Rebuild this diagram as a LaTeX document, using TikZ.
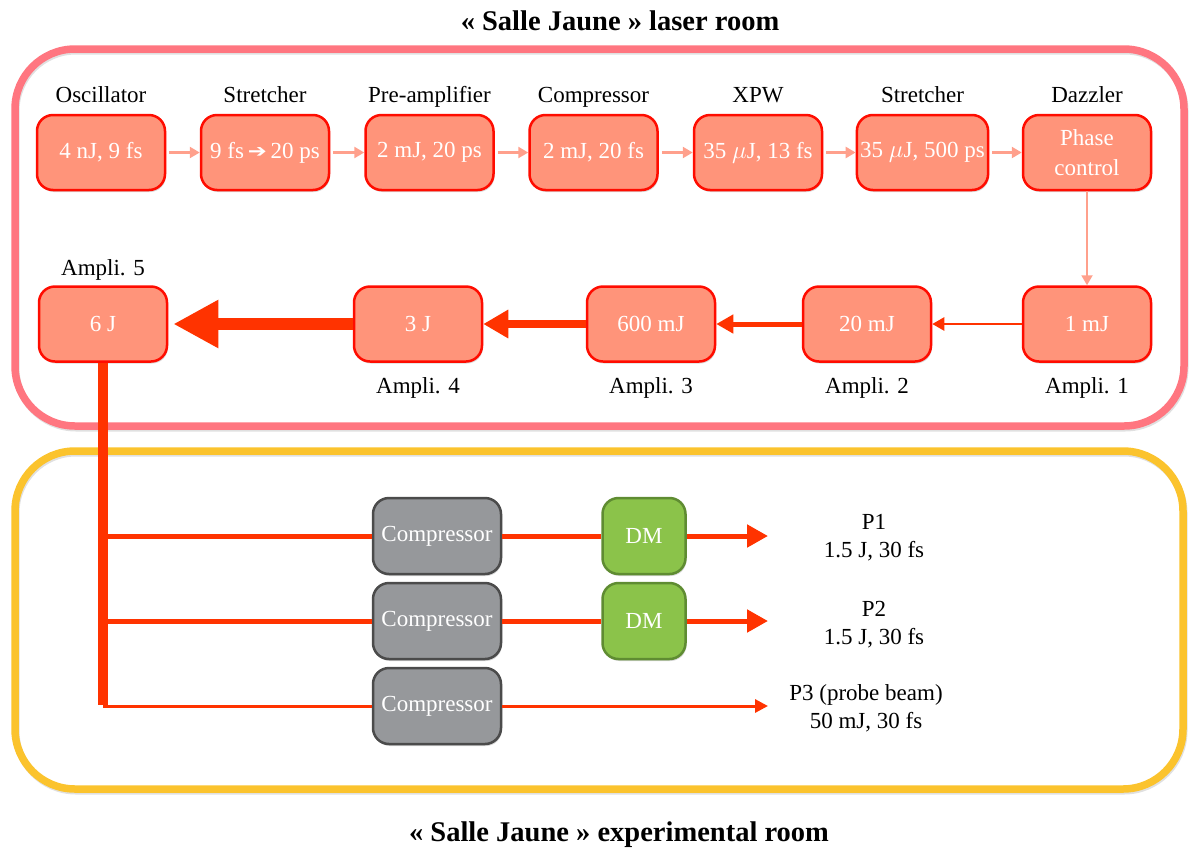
\documentclass[tikz,border=0pt]{standalone}
\usepackage{fontspec}
\setmainfont{Liberation Serif}
\newfontfamily\arrowfont{DejaVu Sans}
\usetikzlibrary{arrows.meta,shadows}
\definecolor{roomred}{RGB}{255,118,128}
\definecolor{roomyellow}{RGB}{251,195,45}
\definecolor{salmon}{RGB}{255,148,122}
\definecolor{boxred}{RGB}{255,12,0}
\definecolor{beam}{RGB}{255,51,0}
\definecolor{seed}{RGB}{255,160,140}
\definecolor{cmpgray}{RGB}{150,152,155}
\definecolor{cmpedge}{RGB}{75,75,75}
\definecolor{dmgreen}{RGB}{139,195,74}
\definecolor{dmedge}{RGB}{95,140,50}
\newcommand{\txt}{\fontsize{23}{30}\selectfont}
\newcommand{\ttl}{\fontsize{28.5}{30}\selectfont\bfseries}
\newcommand{\fatarrow}{\raisebox{1pt}{\resizebox{19pt}{10pt}{\arrowfont ➔}}}
\begin{document}
\begin{tikzpicture}[x=1pt,y=-1pt,
  room/.style={line width=7.5pt,rounded corners=60pt},
  stage/.style={draw=boxred,fill=salmon,line width=2.5pt,rounded corners=16pt,
    minimum width=128pt,minimum height=75pt,text=white,font=\txt,align=center,
    drop shadow={shadow xshift=1pt,shadow yshift=-2pt,opacity=.3}},
  cmpbox/.style={stage,draw=cmpedge,fill=cmpgray,minimum height=76pt},
  dmbox/.style={stage,draw=dmedge,fill=dmgreen,minimum width=83pt,minimum height=76pt},
  lbl/.style={font=\txt,align=center},
  seedarrow/.style={seed,line width=2.5pt,-{Triangle[length=10pt,width=11pt]},shorten <=3pt},
  beamline/.style={beam,line width=#1}]
\useasboundingbox (0,0) rectangle (1192,855);
% the two rooms
\draw[room,black!12,line width=7pt] (16,51) rectangle (1185,428);
\draw[room,roomred] (15,49) rectangle (1184,426);
\draw[room,black!12,line width=7pt] (16,453) rectangle (1184,791);
\draw[room,roomyellow] (15,451) rectangle (1183,789);
\node[font=\ttl] (laser) at (620,21) {« Salle Jaune » laser room};
\node[font=\ttl] (exp) at (619,835) {« Salle Jaune » experimental room};
% front end
\foreach \n/\x/\t/\l in {osc/101/{4 nJ, 9 fs}/Oscillator,
    strA/265/{9 fs\,\fatarrow\,20 ps}/Stretcher,
    pre/429.5/{2 mJ, 20 ps}/Pre-amplifier, cmp/593.5/{2 mJ, 20 fs}/Compressor,
    xpw/758/{35 $\mu$J, 13 fs}/XPW, strB/922.5/{35 $\mu$J, 500 ps}/Stretcher,
    daz/1087/{Phase\\control}/Dazzler}{
  \node[stage] (\n) at (\x,152.5) {\t};
  \node[lbl,anchor=base] (\n-l) at (\x,102) {\l};
}
\foreach \a/\b in {osc/strA,strA/pre,pre/cmp,cmp/xpw,xpw/strB,strB/daz}
  \draw[seedarrow] (\a) -- (\b);
% amplifiers
\foreach \n/\x/\t/\l in {a1/1087/1 mJ/1,a2/867/20 mJ/2,a3/651/600 mJ/3,a4/418/3 J/4}{
  \node[stage] (\n) at (\x,324) {\t};
  \node[lbl,anchor=base] (\n-l) at (\x,393) {Ampli. \l};
}
\node[stage] (a5) at (103,324) {6 J};
\node[lbl,anchor=base] (a5-l) at (103,275) {Ampli. 5};
\draw[seedarrow,line width=2pt,shorten <=0pt] (daz) -- (a1);
\draw[beamline=2.5pt,-{Triangle[length=12pt,width=13pt]}] (a1) -- (a2);
\draw[beamline=5pt,-{Triangle[length=17pt,width=18pt]}] (a2) -- (a3);
\draw[beamline=8pt,-{Triangle[length=25pt,width=27pt]}] (a3) -- (a4);
\draw[beamline=12pt,-{Triangle[length=45pt,width=45pt]},shorten >=5pt] (a4) -- (a5);
% compressors
\node[cmpbox] (c1) at (437,536) {Compressor};
\node[cmpbox] (c2) at (437,621) {Compressor};
\node[cmpbox] (c3) at (437,706) {Compressor};
\node[dmbox] (dm1) at (644,536) {DM};
\node[dmbox] (dm2) at (644,621) {DM};
\coordinate (out1) at (768,536);
\coordinate (out2) at (768,621);
\coordinate (out3) at (768,706);
\draw[beamline=5pt] (c1.west -| a5) -- (c1.west);
\draw[beamline=5pt] (c2.west -| a5) -- (c2.west);
\draw[beamline=3pt] (c3.west -| a5) -- (c3.west);
\draw[beamline=10.5pt] (a5.south) -- ([yshift=1.5pt]c3.west -| a5);
\draw[beamline=5pt] (c1) -- (dm1);
\draw[beamline=5pt] (c2) -- (dm2);
\draw[beamline=5pt,-{Triangle[length=21pt,width=22pt]}] (dm1) -- (out1);
\draw[beamline=5pt,-{Triangle[length=21pt,width=22pt]}] (dm2) -- (out2);
\draw[beamline=3pt,-{Triangle[length=13pt,width=13pt]}] (c3) -- (out3);
\node[lbl,font=\fontsize{23}{28}\selectfont] (p1) at (874,538) {P1\\1.5 J, 30 fs};
\node[lbl,font=\fontsize{23}{28}\selectfont] (p2) at (874,625) {P2\\1.5 J, 30 fs};
\node[lbl,font=\fontsize{23}{28}\selectfont] (p3) at (866,708) {P3 (probe beam)\\50 mJ, 30 fs};
\end{tikzpicture}
\end{document}
